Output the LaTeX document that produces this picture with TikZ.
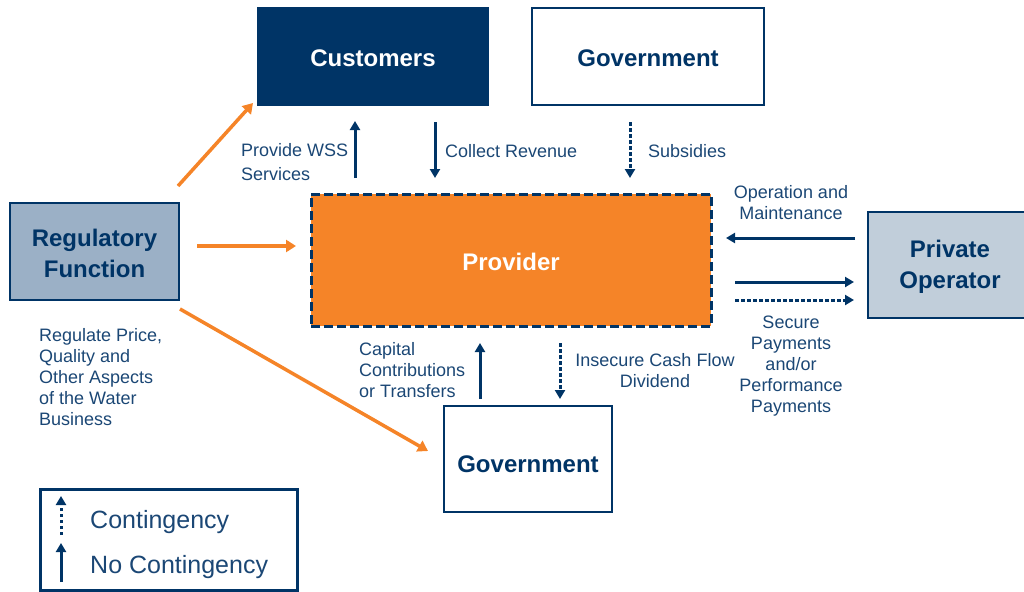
\documentclass[tikz,border=0pt]{standalone}
\usepackage{fontspec}
\setmainfont{Liberation Sans}
\usetikzlibrary{arrows.meta}
\definecolor{navy}{HTML}{003466}
\definecolor{orng}{HTML}{F58428}
\definecolor{regfill}{HTML}{9BB0C6}
\definecolor{privfill}{HTML}{C1CEDA}
\definecolor{txt}{HTML}{1B4775}
\begin{document}
\begin{tikzpicture}[x=1pt,y=-1pt,
  box/.style={draw=navy,line width=1.2pt,inner sep=0pt},
  btxt/.style={inner sep=0pt,font=\fontsize{24}{31}\selectfont\bfseries,text=navy,align=center},
  lbl/.style={inner sep=0pt,font=\fontsize{18}{21}\selectfont,text=txt},
  orarrow/.style={draw=orng,line width=3.5pt,-{Triangle[length=10pt,width=12pt]}},
  navarrow/.style={draw=navy,line width=3pt,-{Triangle[length=9pt,width=10pt]}},
  dsharrow/.style={navarrow,dash pattern=on 3.5pt off 2.5pt}]
\useasboundingbox (0,0) rectangle (1024,591);
% boxes
\node[box,fill=navy,minimum width=230pt,minimum height=97pt] (cust) at (373,56.5) {};
\node[box,fill=white,minimum width=232pt,minimum height=97pt] (govt) at (648,56.5) {};
\node[box,fill=orng,line width=3pt,dash pattern=on 9pt off 4pt,minimum width=400pt,minimum height=132pt] (prov) at (511,260) {};
\node[box,fill=regfill,minimum width=169pt,minimum height=97pt] (reg) at (94.5,251.5) {};
\node[box,fill=privfill,minimum width=172pt,minimum height=106pt] (priv) at (954,265) {};
\node[box,fill=white,minimum width=168pt,minimum height=106pt] (govb) at (528,459) {};
\node[box,line width=3pt,minimum width=257pt,minimum height=101pt] (leg) at (168.5,539.5) {};
% box texts
\node[btxt,text=white,yshift=-2pt] (custt) at (cust.center) {Customers};
\node[btxt,yshift=-2pt] (govtt) at (govt.center) {Government};
\node[btxt,text=white,yshift=-1.5pt] (provt) at (prov.center) {Provider};
\node[btxt,yshift=-2pt] (regt) at (reg.center) {Regulatory\\Function};
\node[btxt,yshift=-1.5pt] (privt) at (950,265) {Private\\Operator};
\node[btxt,yshift=-5pt] (govbt) at (govb.center) {Government};
% coordinates
\coordinate (o1s) at (178,186); \coordinate (o1e) at (253,103);
\coordinate (o2s) at (197,246); \coordinate (o2e) at (296,246);
\coordinate (o3s) at (180,309); \coordinate (o3e) at (428,451);
\coordinate (wss1) at (355,178); \coordinate (wss2) at (355,121);
\coordinate (cr1) at (435,122); \coordinate (cr2) at (435,178);
\coordinate (sb1) at (630,122); \coordinate (sb2) at (630,178);
\coordinate (om1) at (855,238); \coordinate (om2) at (726,238);
\coordinate (sp1) at (735,282); \coordinate (sp2) at (854,282);
\coordinate (pp1) at (735,300); \coordinate (pp2) at (854,300);
\coordinate (cc1) at (480,399); \coordinate (cc2) at (480,343);
\coordinate (ic1) at (560,343); \coordinate (ic2) at (560,399);
\coordinate (l11) at (61,535); \coordinate (l12) at (61,496);
\coordinate (l21) at (61,582); \coordinate (l22) at (61,543);
% orange arrows
\draw[orarrow] (o1s) -- (o1e);
\draw[orarrow] (o2s) -- (o2e);
\draw[orarrow] (o3s) -- (o3e);
% navy arrows
\draw[navarrow] (wss1) -- (wss2);
\draw[navarrow] (cr1) -- (cr2);
\draw[dsharrow] (sb1) -- (sb2);
\draw[navarrow] (om1) -- (om2);
\draw[navarrow] (sp1) -- (sp2);
\draw[dsharrow] (pp1) -- (pp2);
\draw[navarrow] (cc1) -- (cc2);
\draw[dsharrow] (ic1) -- (ic2);
\draw[dsharrow] (l11) -- (l12);
\draw[navarrow] (l21) -- (l22);
% labels
\node[lbl,anchor=north west,align=left,font=\fontsize{18}{24}\selectfont] (t1) at (241,143) {Provide WSS\\Services};
\node[lbl,anchor=north west] (t2) at (445,144) {Collect Revenue};
\node[lbl,anchor=north west] (t3) at (648,144) {Subsidies};
\node[lbl,anchor=north,align=center] (t4) at (791,185) {Operation and\\Maintenance};
\node[lbl,anchor=north,align=center] (t5) at (791,316) {Secure\\Payments\\and/or\\Performance\\Payments};
\node[lbl,anchor=north west,align=left] (t6) at (359,342) {Capital\\Contributions\\or Transfers};
\node[lbl,anchor=north,align=center] (t7) at (655,353) {Insecure Cash Flow\\Dividend};
\node[lbl,anchor=north west,align=left] (t8) at (39,328) {Regulate Price,\\Quality and\\Other Aspects\\of the Water\\Business};
\node[lbl,anchor=west,font=\fontsize{25}{28}\selectfont] (t9) at (90,522) {Contingency};
\node[lbl,anchor=west,font=\fontsize{25}{28}\selectfont] (t10) at (90,567) {No Contingency};
\end{tikzpicture}
\end{document}
